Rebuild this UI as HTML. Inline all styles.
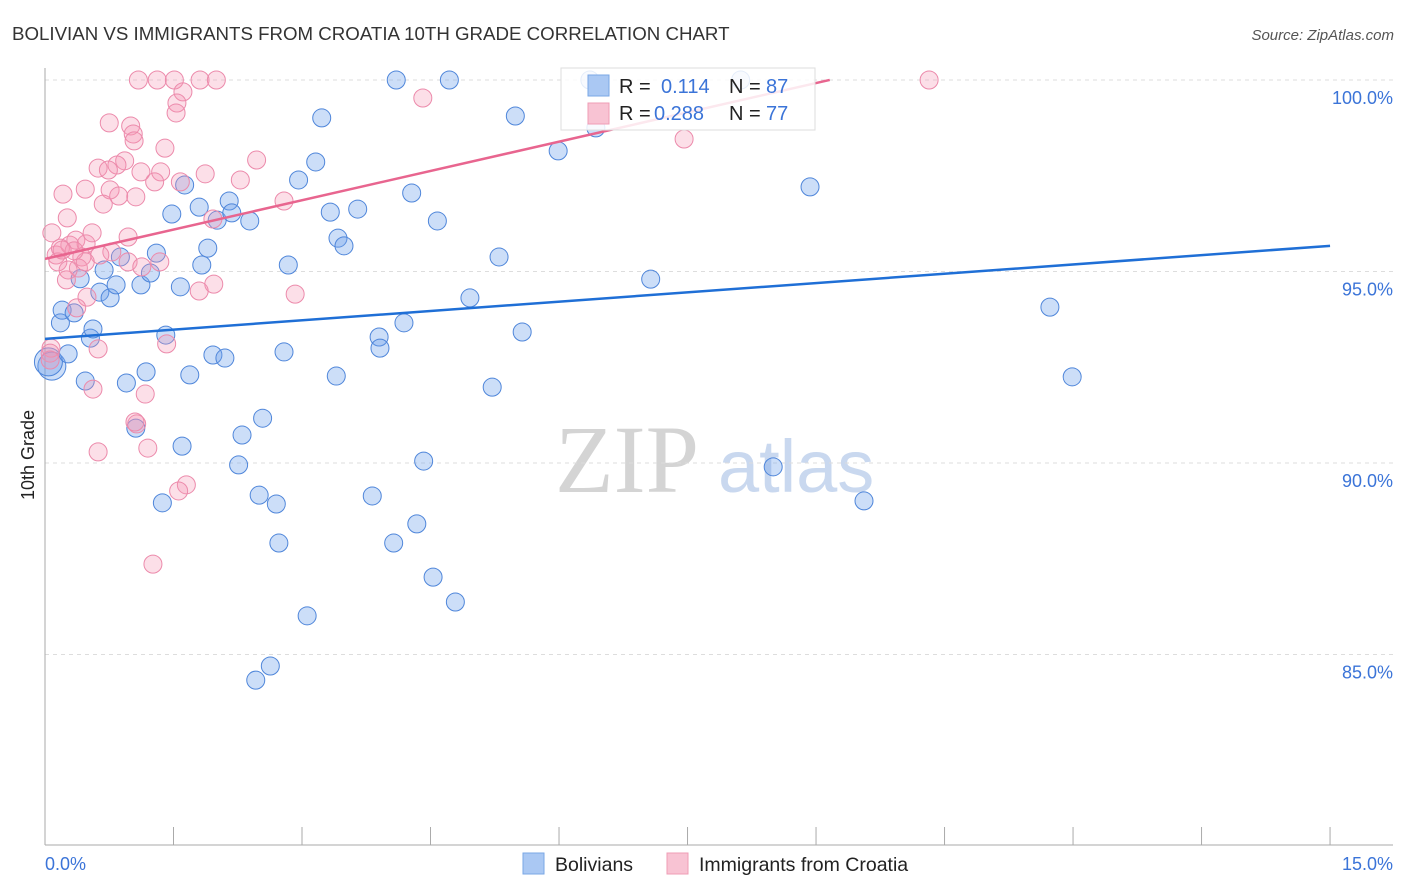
<!DOCTYPE html>
<html><head><meta charset="utf-8"><style>
body{margin:0;background:#fff;font-family:"Liberation Sans",sans-serif}
svg{display:block}
</style></head><body>
<svg id="chart" width="1406" height="892" xmlns="http://www.w3.org/2000/svg" font-family="Liberation Sans, sans-serif">
<text x="12" y="40" font-size="18.7" fill="#333">BOLIVIAN VS IMMIGRANTS FROM CROATIA 10TH GRADE CORRELATION CHART</text>
<text x="1394" y="40" font-size="15" fill="#555" font-style="italic" text-anchor="end">Source: ZipAtlas.com</text>
<g>
<text x="555" y="492" font-size="96" font-family="Liberation Serif, serif" fill="#d4d4d4">ZIP</text>
<text x="718" y="492" font-size="74" fill="#c9d8ef">atlas</text>
</g>
<g id="grid"></g>
<g id="ticks"></g>
<line x1="45" y1="68" x2="45" y2="845" stroke="#aaa" stroke-width="1"/>
<line x1="45" y1="845" x2="1393" y2="845" stroke="#aaa" stroke-width="1"/>
<g id="pts"></g>
<g id="lines"></g>
<g id="ylabels"></g>
<text x="45" y="870" font-size="18" fill="#3b74d8">0.0%</text>
<text x="1393" y="870" font-size="18" fill="#3b74d8" text-anchor="end">15.0%</text>
<text transform="translate(34,455) rotate(-90)" font-size="18" fill="#222" text-anchor="middle">10th Grade</text>
<g>
<rect x="561" y="68" width="254" height="62" fill="#fff" fill-opacity="0.85" stroke="#ddd"/>
<rect x="588" y="75" width="21" height="21" fill="#aac8f3" stroke="#7aa7e6"/>
<rect x="588" y="103" width="21" height="21" fill="#f8c3d3" stroke="#ef9cb6"/>
<text x="619" y="93" font-size="20" fill="#222">R = </text><text x="661" y="93" font-size="20" fill="#3b74d8">0.114</text>
<text x="729" y="93" font-size="20" fill="#222">N = </text><text x="766" y="93" font-size="20" fill="#3b74d8">87</text>
<text x="619" y="120" font-size="20" fill="#222">R = </text><text x="654" y="120" font-size="20" fill="#3b74d8">0.288</text>
<text x="729" y="120" font-size="20" fill="#222">N = </text><text x="766" y="120" font-size="20" fill="#3b74d8">77</text>
</g>
<g>
<rect x="523" y="853" width="21" height="21" fill="#aac8f3" stroke="#7aa7e6"/>
<text x="555" y="871" font-size="19.5" fill="#222">Bolivians</text>
<rect x="667" y="853" width="21" height="21" fill="#f8c3d3" stroke="#ef9cb6"/>
<text x="699" y="871" font-size="19.5" fill="#222">Immigrants from Croatia</text>
</g>
</svg>
<script>
const yTicks=[100,95,90,85];
const yTickLabels=["100.0%","95.0%","90.0%","85.0%"];
const xTickVals=[0,1.5,3,4.5,6,7.5,9,10.5,12,13.5,15];
const blueX=[0.08,0.04,0.18,0.20,0.27,0.34,0.41,0.47,0.53,0.56,0.64,0.69,0.76,0.83,0.88,0.95,1.06,1.18,1.12,1.23,1.30,1.37,1.41,1.48,1.58,1.60,1.63,1.69,1.80,1.83,1.90,1.96,2.01,2.10,2.15,2.18,2.26,2.30,2.39,2.46,2.50,2.54,2.63,2.70,2.73,2.79,2.84,2.96,3.06,3.16,3.23,3.33,3.40,3.42,3.49,3.65,3.82,3.90,3.91,4.07,4.10,4.19,4.28,4.34,4.42,4.53,4.58,4.72,4.79,4.96,5.22,5.30,5.49,5.57,5.99,6.36,6.43,7.07,8.12,8.50,8.93,9.56,11.73,11.99];
const blueY=[92.53,92.64,93.66,93.99,92.85,93.92,94.81,92.14,93.26,93.50,94.46,95.04,94.31,94.65,95.38,92.09,90.91,92.38,94.65,94.96,95.48,88.96,93.34,96.50,94.60,90.44,97.26,92.30,96.68,95.17,95.61,92.82,96.34,92.74,96.84,96.53,89.95,90.73,96.32,84.33,89.16,91.17,84.70,88.93,87.91,92.90,95.17,97.39,86.01,97.86,99.01,96.55,92.27,95.87,95.67,96.63,89.14,93.29,93.00,87.91,100,93.66,97.05,88.41,90.05,87.02,96.32,100,86.37,94.31,91.98,95.38,99.06,93.42,98.15,100,98.75,94.80,100,89.90,97.21,89.01,94.07,92.25];
const pinkX=[1.09,1.31,1.51,1.81,2.00,10.32,1.61,1.54,1.53,0.75,1.00,1.03,1.04,4.41,7.46,1.40,0.93,0.84,0.62,0.74,1.35,0.47,0.76,0.86,0.68,1.06,1.87,1.58,1.28,1.12,0.21,0.26,1.96,2.79,2.47,0.08,0.13,0.29,0.36,0.48,0.55,0.43,0.97,0.78,0.64,0.97,0.18,0.15,0.39,0.47,0.25,0.27,1.13,1.34,1.97,1.80,2.92,0.49,0.37,0.07,0.06,0.06,0.62,1.42,0.56,1.17,1.07,1.20,0.62,1.65,1.56,1.26,2.28,1.05,0.34,0.20];
const pinkY=[100,100,100,100,100,100,99.69,99.40,99.14,98.88,98.80,98.59,98.41,99.53,98.46,98.22,97.89,97.78,97.70,97.65,97.60,97.15,97.13,96.97,96.76,96.95,97.55,97.34,97.34,97.60,97.02,96.40,96.37,96.84,97.91,96.01,95.43,95.69,95.82,95.72,96.01,95.38,95.90,95.51,95.43,95.25,95.61,95.25,95.09,95.25,94.78,95.04,95.12,95.25,94.67,94.49,94.41,94.33,94.05,93.00,92.87,92.69,92.98,93.11,91.93,91.80,91.02,90.39,90.29,89.43,89.27,87.36,97.39,91.07,95.54,95.56];
const blueTrend=[93.24,0.162,15];
const pinkTrend=[95.33,0.51,9.16];
const NS="http://www.w3.org/2000/svg";
const xs=v=>45+v*85.67;
const ys=v=>80+(100-v)*38.3;
function mk(tag,attrs,parent){const e=document.createElementNS(NS,tag);for(const k in attrs)e.setAttribute(k,attrs[k]);parent.appendChild(e);return e;}
const grid=document.getElementById('grid');
yTicks.forEach((t,i)=>{
 const l=mk('line',{x1:45,x2:1393,y1:ys(t),y2:ys(t),stroke:'#ddd','stroke-dasharray':'4,4'},grid);
 
 
 const tx=mk('text',{x:1393,y:ys(t)+24,'font-size':18,fill:'#3b74d8','text-anchor':'end'},document.getElementById('ylabels'));
 tx.textContent=yTickLabels[i];
 
 
});
xTickVals.forEach(v=>{
 const l=mk('line',{x1:xs(v),x2:xs(v),y1:827,y2:845,stroke:'#aaa'},document.getElementById('ticks'));
 
 
});
const pts=document.getElementById('pts');
blueX.forEach((x,i)=>{
 const c=mk('circle',{cx:xs(x),cy:ys(blueY[i]),r:i<2?14:9,fill:'rgba(110,160,235,0.35)',stroke:'#4f86da','stroke-width':1},pts);
 
 
});
pinkX.forEach((x,i)=>{
 const c=mk('circle',{cx:xs(x),cy:ys(pinkY[i]),r:9,fill:'rgba(245,150,180,0.3)',stroke:'#ec8aab','stroke-width':1},pts);
 
 
});
const lines=document.getElementById('lines');
const bl=mk('line',{x1:xs(0),y1:ys(blueTrend[0]),x2:xs(blueTrend[2]),y2:ys(blueTrend[0]+blueTrend[1]*blueTrend[2]),stroke:'#1f6fd6','stroke-width':2.5},lines);


const pl=mk('line',{x1:xs(0),y1:ys(pinkTrend[0]),x2:xs(pinkTrend[2]),y2:ys(pinkTrend[0]+pinkTrend[1]*pinkTrend[2]),stroke:'#e8658f','stroke-width':2.5},lines);


</script>
</body></html>
